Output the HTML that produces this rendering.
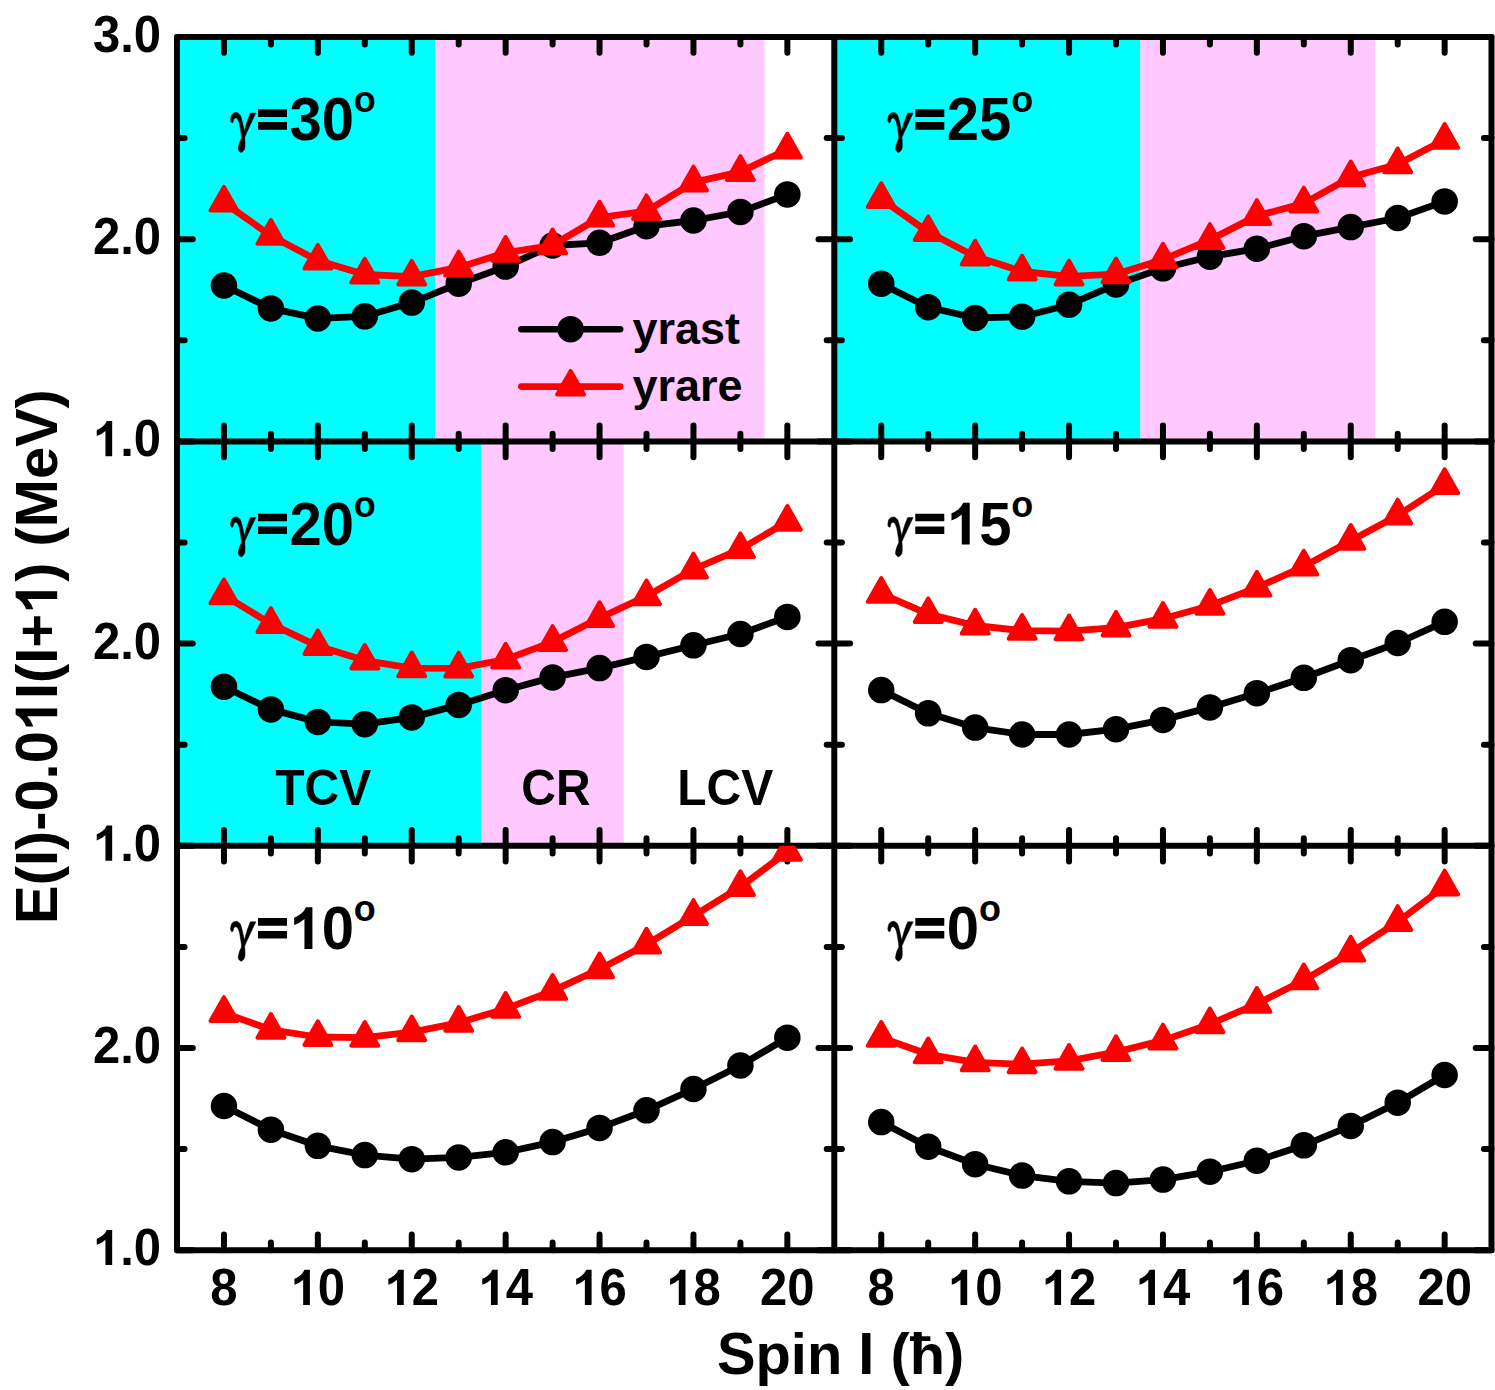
<!DOCTYPE html>
<html><head><meta charset="utf-8"><title>chart</title>
<style>html,body{margin:0;padding:0;background:#fff;}svg{display:block;}text{font-family:"Liberation Sans",sans-serif;font-weight:bold;fill:#000;font-kerning:none;white-space:pre;}</style></head><body>
<svg width="1495" height="1390" viewBox="0 0 1495 1390">
<rect x="0" y="0" width="1495" height="1390" fill="#fff"/>
<defs>
<clipPath id="cp00"><rect x="177.0" y="37.0" width="657.3" height="404.4"/></clipPath>
<clipPath id="cp01"><rect x="834.3" y="37.0" width="657.2" height="404.4"/></clipPath>
<clipPath id="cp10"><rect x="177.0" y="441.4" width="657.3" height="404.4"/></clipPath>
<clipPath id="cp11"><rect x="834.3" y="441.4" width="657.2" height="404.4"/></clipPath>
<clipPath id="cp20"><rect x="177.0" y="845.8" width="657.3" height="404.4"/></clipPath>
<clipPath id="cp21"><rect x="834.3" y="845.8" width="657.2" height="404.4"/></clipPath>
</defs>
<rect x="177.0" y="37.0" width="258.0" height="404.4" fill="#00FFFF"/>
<rect x="435.0" y="37.0" width="329.5" height="404.4" fill="#FFC8FF"/>
<rect x="834.3" y="37.0" width="306.1" height="404.4" fill="#00FFFF"/>
<rect x="1140.4" y="37.0" width="234.7" height="404.4" fill="#FFC8FF"/>
<rect x="177.0" y="441.4" width="304.7" height="404.4" fill="#00FFFF"/>
<rect x="481.7" y="441.4" width="142.0" height="404.4" fill="#FFC8FF"/>
<g fill="none" stroke="#000" stroke-width="6.0" stroke-linecap="round" stroke-linejoin="round">
<rect x="177.0" y="37.0" width="1314.5" height="1213.2"/>
<path d="M834.3 37.0V1250.2M177.0 441.4H1491.5M177.0 845.8H1491.5"/>
<path d="M223.95 37.00V52.80M223.95 425.60V457.20M223.95 830.00V861.60M223.95 1234.40V1250.20M270.90 37.00V44.60M270.90 433.80V449.00M270.90 838.20V853.40M270.90 1242.60V1250.20M317.85 37.00V52.80M317.85 425.60V457.20M317.85 830.00V861.60M317.85 1234.40V1250.20M364.80 37.00V44.60M364.80 433.80V449.00M364.80 838.20V853.40M364.80 1242.60V1250.20M411.75 37.00V52.80M411.75 425.60V457.20M411.75 830.00V861.60M411.75 1234.40V1250.20M458.70 37.00V44.60M458.70 433.80V449.00M458.70 838.20V853.40M458.70 1242.60V1250.20M505.65 37.00V52.80M505.65 425.60V457.20M505.65 830.00V861.60M505.65 1234.40V1250.20M552.60 37.00V44.60M552.60 433.80V449.00M552.60 838.20V853.40M552.60 1242.60V1250.20M599.55 37.00V52.80M599.55 425.60V457.20M599.55 830.00V861.60M599.55 1234.40V1250.20M646.50 37.00V44.60M646.50 433.80V449.00M646.50 838.20V853.40M646.50 1242.60V1250.20M693.45 37.00V52.80M693.45 425.60V457.20M693.45 830.00V861.60M693.45 1234.40V1250.20M740.40 37.00V44.60M740.40 433.80V449.00M740.40 838.20V853.40M740.40 1242.60V1250.20M787.35 37.00V52.80M787.35 425.60V457.20M787.35 830.00V861.60M787.35 1234.40V1250.20M881.25 37.00V52.80M881.25 425.60V457.20M881.25 830.00V861.60M881.25 1234.40V1250.20M928.20 37.00V44.60M928.20 433.80V449.00M928.20 838.20V853.40M928.20 1242.60V1250.20M975.15 37.00V52.80M975.15 425.60V457.20M975.15 830.00V861.60M975.15 1234.40V1250.20M1022.10 37.00V44.60M1022.10 433.80V449.00M1022.10 838.20V853.40M1022.10 1242.60V1250.20M1069.05 37.00V52.80M1069.05 425.60V457.20M1069.05 830.00V861.60M1069.05 1234.40V1250.20M1116.00 37.00V44.60M1116.00 433.80V449.00M1116.00 838.20V853.40M1116.00 1242.60V1250.20M1162.95 37.00V52.80M1162.95 425.60V457.20M1162.95 830.00V861.60M1162.95 1234.40V1250.20M1209.90 37.00V44.60M1209.90 433.80V449.00M1209.90 838.20V853.40M1209.90 1242.60V1250.20M1256.85 37.00V52.80M1256.85 425.60V457.20M1256.85 830.00V861.60M1256.85 1234.40V1250.20M1303.80 37.00V44.60M1303.80 433.80V449.00M1303.80 838.20V853.40M1303.80 1242.60V1250.20M1350.75 37.00V52.80M1350.75 425.60V457.20M1350.75 830.00V861.60M1350.75 1234.40V1250.20M1397.70 37.00V44.60M1397.70 433.80V449.00M1397.70 838.20V853.40M1397.70 1242.60V1250.20M1444.65 37.00V52.80M1444.65 425.60V457.20M1444.65 830.00V861.60M1444.65 1234.40V1250.20M177.00 340.30H184.60M826.70 340.30H841.90M1483.90 340.30H1491.50M177.00 239.20H192.80M818.50 239.20H850.10M1475.70 239.20H1491.50M177.00 138.10H184.60M826.70 138.10H841.90M1483.90 138.10H1491.50M177.00 744.70H184.60M826.70 744.70H841.90M1483.90 744.70H1491.50M177.00 643.60H192.80M818.50 643.60H850.10M1475.70 643.60H1491.50M177.00 542.50H184.60M826.70 542.50H841.90M1483.90 542.50H1491.50M177.00 1149.10H184.60M826.70 1149.10H841.90M1483.90 1149.10H1491.50M177.00 1048.00H192.80M818.50 1048.00H850.10M1475.70 1048.00H1491.50M177.00 946.90H184.60M826.70 946.90H841.90M1483.90 946.90H1491.50M177.00 37.00H192.80M177.00 441.40H192.80M177.00 845.80H192.80M177.00 1250.20H192.80M818.50 37.00H850.10M818.50 441.40H850.10M818.50 845.80H850.10M818.50 1250.20H850.10M1475.70 37.00H1491.50M1475.70 441.40H1491.50M1475.70 845.80H1491.50M1475.70 1250.20H1491.50"/>
</g>
<g clip-path="url(#cp00)">
<polyline points="223.95,285.50 270.90,308.40 317.85,318.40 364.80,316.30 411.75,302.60 458.70,283.70 505.65,266.60 552.60,245.50 599.55,242.80 646.50,226.20 693.45,220.50 740.40,211.90 787.35,194.40" fill="none" stroke="#000" stroke-width="6.8" stroke-linejoin="round" stroke-linecap="round"/>
<g fill="#000"><circle cx="223.95" cy="285.50" r="13.25"/><circle cx="270.90" cy="308.40" r="13.25"/><circle cx="317.85" cy="318.40" r="13.25"/><circle cx="364.80" cy="316.30" r="13.25"/><circle cx="411.75" cy="302.60" r="13.25"/><circle cx="458.70" cy="283.70" r="13.25"/><circle cx="505.65" cy="266.60" r="13.25"/><circle cx="552.60" cy="245.50" r="13.25"/><circle cx="599.55" cy="242.80" r="13.25"/><circle cx="646.50" cy="226.20" r="13.25"/><circle cx="693.45" cy="220.50" r="13.25"/><circle cx="740.40" cy="211.90" r="13.25"/><circle cx="787.35" cy="194.40" r="13.25"/></g>
<polyline points="223.95,202.60 270.90,235.70 317.85,260.60 364.80,274.50 411.75,276.60 458.70,267.40 505.65,252.80 552.60,245.30 599.55,217.50 646.50,211.10 693.45,182.40 740.40,171.90 787.35,149.50" fill="none" stroke="#FF0000" stroke-width="6.8" stroke-linejoin="round" stroke-linecap="round"/>
<path fill="#FF0000" stroke="#FF0000" stroke-width="4.0" stroke-linejoin="round" d="M223.95 186.90L237.40 210.60L210.50 210.60ZM270.90 220.00L284.35 243.70L257.45 243.70ZM317.85 244.90L331.30 268.60L304.40 268.60ZM364.80 258.80L378.25 282.50L351.35 282.50ZM411.75 260.90L425.20 284.60L398.30 284.60ZM458.70 251.70L472.15 275.40L445.25 275.40ZM505.65 237.10L519.10 260.80L492.20 260.80ZM552.60 229.60L566.05 253.30L539.15 253.30ZM599.55 201.80L613.00 225.50L586.10 225.50ZM646.50 195.40L659.95 219.10L633.05 219.10ZM693.45 166.70L706.90 190.40L680.00 190.40ZM740.40 156.20L753.85 179.90L726.95 179.90ZM787.35 133.80L800.80 157.50L773.90 157.50Z"/>
</g>
<g clip-path="url(#cp01)">
<polyline points="881.25,283.70 928.20,307.20 975.15,317.90 1022.10,316.70 1069.05,304.70 1116.00,284.40 1162.95,268.30 1209.90,256.70 1256.85,248.70 1303.80,236.20 1350.75,227.10 1397.70,218.00 1444.65,201.40" fill="none" stroke="#000" stroke-width="6.8" stroke-linejoin="round" stroke-linecap="round"/>
<g fill="#000"><circle cx="881.25" cy="283.70" r="13.25"/><circle cx="928.20" cy="307.20" r="13.25"/><circle cx="975.15" cy="317.90" r="13.25"/><circle cx="1022.10" cy="316.70" r="13.25"/><circle cx="1069.05" cy="304.70" r="13.25"/><circle cx="1116.00" cy="284.40" r="13.25"/><circle cx="1162.95" cy="268.30" r="13.25"/><circle cx="1209.90" cy="256.70" r="13.25"/><circle cx="1256.85" cy="248.70" r="13.25"/><circle cx="1303.80" cy="236.20" r="13.25"/><circle cx="1350.75" cy="227.10" r="13.25"/><circle cx="1397.70" cy="218.00" r="13.25"/><circle cx="1444.65" cy="201.40" r="13.25"/></g>
<polyline points="881.25,199.00 928.20,232.10 975.15,256.40 1022.10,271.50 1069.05,276.40 1116.00,274.20 1162.95,259.50 1209.90,239.90 1256.85,215.90 1303.80,203.40 1350.75,177.30 1397.70,164.30 1444.65,139.70" fill="none" stroke="#FF0000" stroke-width="6.8" stroke-linejoin="round" stroke-linecap="round"/>
<path fill="#FF0000" stroke="#FF0000" stroke-width="4.0" stroke-linejoin="round" d="M881.25 183.30L894.70 207.00L867.80 207.00ZM928.20 216.40L941.65 240.10L914.75 240.10ZM975.15 240.70L988.60 264.40L961.70 264.40ZM1022.10 255.80L1035.55 279.50L1008.65 279.50ZM1069.05 260.70L1082.50 284.40L1055.60 284.40ZM1116.00 258.50L1129.45 282.20L1102.55 282.20ZM1162.95 243.80L1176.40 267.50L1149.50 267.50ZM1209.90 224.20L1223.35 247.90L1196.45 247.90ZM1256.85 200.20L1270.30 223.90L1243.40 223.90ZM1303.80 187.70L1317.25 211.40L1290.35 211.40ZM1350.75 161.60L1364.20 185.30L1337.30 185.30ZM1397.70 148.60L1411.15 172.30L1384.25 172.30ZM1444.65 124.00L1458.10 147.70L1431.20 147.70Z"/>
</g>
<g clip-path="url(#cp10)">
<polyline points="223.95,686.70 270.90,709.40 317.85,721.90 364.80,724.20 411.75,717.40 458.70,704.90 505.65,690.20 552.60,677.40 599.55,668.10 646.50,656.90 693.45,645.30 740.40,634.00 787.35,616.90" fill="none" stroke="#000" stroke-width="6.8" stroke-linejoin="round" stroke-linecap="round"/>
<g fill="#000"><circle cx="223.95" cy="686.70" r="13.25"/><circle cx="270.90" cy="709.40" r="13.25"/><circle cx="317.85" cy="721.90" r="13.25"/><circle cx="364.80" cy="724.20" r="13.25"/><circle cx="411.75" cy="717.40" r="13.25"/><circle cx="458.70" cy="704.90" r="13.25"/><circle cx="505.65" cy="690.20" r="13.25"/><circle cx="552.60" cy="677.40" r="13.25"/><circle cx="599.55" cy="668.10" r="13.25"/><circle cx="646.50" cy="656.90" r="13.25"/><circle cx="693.45" cy="645.30" r="13.25"/><circle cx="740.40" cy="634.00" r="13.25"/><circle cx="787.35" cy="616.90" r="13.25"/></g>
<polyline points="223.95,595.20 270.90,623.90 317.85,646.10 364.80,660.60 411.75,668.20 458.70,668.40 505.65,659.50 552.60,641.90 599.55,618.00 646.50,596.20 693.45,569.40 740.40,549.10 787.35,521.80" fill="none" stroke="#FF0000" stroke-width="6.8" stroke-linejoin="round" stroke-linecap="round"/>
<path fill="#FF0000" stroke="#FF0000" stroke-width="4.0" stroke-linejoin="round" d="M223.95 579.50L237.40 603.20L210.50 603.20ZM270.90 608.20L284.35 631.90L257.45 631.90ZM317.85 630.40L331.30 654.10L304.40 654.10ZM364.80 644.90L378.25 668.60L351.35 668.60ZM411.75 652.50L425.20 676.20L398.30 676.20ZM458.70 652.70L472.15 676.40L445.25 676.40ZM505.65 643.80L519.10 667.50L492.20 667.50ZM552.60 626.20L566.05 649.90L539.15 649.90ZM599.55 602.30L613.00 626.00L586.10 626.00ZM646.50 580.50L659.95 604.20L633.05 604.20ZM693.45 553.70L706.90 577.40L680.00 577.40ZM740.40 533.40L753.85 557.10L726.95 557.10ZM787.35 506.10L800.80 529.80L773.90 529.80Z"/>
</g>
<g clip-path="url(#cp11)">
<polyline points="881.25,690.10 928.20,713.30 975.15,727.60 1022.10,734.50 1069.05,734.50 1116.00,729.20 1162.95,719.90 1209.90,707.40 1256.85,693.20 1303.80,677.80 1350.75,660.20 1397.70,643.00 1444.65,621.80" fill="none" stroke="#000" stroke-width="6.8" stroke-linejoin="round" stroke-linecap="round"/>
<g fill="#000"><circle cx="881.25" cy="690.10" r="13.25"/><circle cx="928.20" cy="713.30" r="13.25"/><circle cx="975.15" cy="727.60" r="13.25"/><circle cx="1022.10" cy="734.50" r="13.25"/><circle cx="1069.05" cy="734.50" r="13.25"/><circle cx="1116.00" cy="729.20" r="13.25"/><circle cx="1162.95" cy="719.90" r="13.25"/><circle cx="1209.90" cy="707.40" r="13.25"/><circle cx="1256.85" cy="693.20" r="13.25"/><circle cx="1303.80" cy="677.80" r="13.25"/><circle cx="1350.75" cy="660.20" r="13.25"/><circle cx="1397.70" cy="643.00" r="13.25"/><circle cx="1444.65" cy="621.80" r="13.25"/></g>
<polyline points="881.25,593.70 928.20,614.10 975.15,625.50 1022.10,630.70 1069.05,631.20 1116.00,627.60 1162.95,618.70 1209.90,605.70 1256.85,587.60 1303.80,566.50 1350.75,540.80 1397.70,515.40 1444.65,485.00" fill="none" stroke="#FF0000" stroke-width="6.8" stroke-linejoin="round" stroke-linecap="round"/>
<path fill="#FF0000" stroke="#FF0000" stroke-width="4.0" stroke-linejoin="round" d="M881.25 578.00L894.70 601.70L867.80 601.70ZM928.20 598.40L941.65 622.10L914.75 622.10ZM975.15 609.80L988.60 633.50L961.70 633.50ZM1022.10 615.00L1035.55 638.70L1008.65 638.70ZM1069.05 615.50L1082.50 639.20L1055.60 639.20ZM1116.00 611.90L1129.45 635.60L1102.55 635.60ZM1162.95 603.00L1176.40 626.70L1149.50 626.70ZM1209.90 590.00L1223.35 613.70L1196.45 613.70ZM1256.85 571.90L1270.30 595.60L1243.40 595.60ZM1303.80 550.80L1317.25 574.50L1290.35 574.50ZM1350.75 525.10L1364.20 548.80L1337.30 548.80ZM1397.70 499.70L1411.15 523.40L1384.25 523.40ZM1444.65 469.30L1458.10 493.00L1431.20 493.00Z"/>
</g>
<g clip-path="url(#cp20)">
<polyline points="223.95,1106.00 270.90,1129.70 317.85,1145.80 364.80,1155.10 411.75,1159.20 458.70,1157.40 505.65,1152.30 552.60,1142.10 599.55,1127.90 646.50,1110.30 693.45,1089.00 740.40,1065.50 787.35,1037.70" fill="none" stroke="#000" stroke-width="6.8" stroke-linejoin="round" stroke-linecap="round"/>
<g fill="#000"><circle cx="223.95" cy="1106.00" r="13.25"/><circle cx="270.90" cy="1129.70" r="13.25"/><circle cx="317.85" cy="1145.80" r="13.25"/><circle cx="364.80" cy="1155.10" r="13.25"/><circle cx="411.75" cy="1159.20" r="13.25"/><circle cx="458.70" cy="1157.40" r="13.25"/><circle cx="505.65" cy="1152.30" r="13.25"/><circle cx="552.60" cy="1142.10" r="13.25"/><circle cx="599.55" cy="1127.90" r="13.25"/><circle cx="646.50" cy="1110.30" r="13.25"/><circle cx="693.45" cy="1089.00" r="13.25"/><circle cx="740.40" cy="1065.50" r="13.25"/><circle cx="787.35" cy="1037.70" r="13.25"/></g>
<polyline points="223.95,1012.90 270.90,1029.80 317.85,1037.00 364.80,1037.70 411.75,1032.20 458.70,1022.80 505.65,1008.80 552.60,990.80 599.55,969.20 646.50,944.50 693.45,915.90 740.40,887.00 787.35,851.80" fill="none" stroke="#FF0000" stroke-width="6.8" stroke-linejoin="round" stroke-linecap="round"/>
<path fill="#FF0000" stroke="#FF0000" stroke-width="4.0" stroke-linejoin="round" d="M223.95 997.20L237.40 1020.90L210.50 1020.90ZM270.90 1014.10L284.35 1037.80L257.45 1037.80ZM317.85 1021.30L331.30 1045.00L304.40 1045.00ZM364.80 1022.00L378.25 1045.70L351.35 1045.70ZM411.75 1016.50L425.20 1040.20L398.30 1040.20ZM458.70 1007.10L472.15 1030.80L445.25 1030.80ZM505.65 993.10L519.10 1016.80L492.20 1016.80ZM552.60 975.10L566.05 998.80L539.15 998.80ZM599.55 953.50L613.00 977.20L586.10 977.20ZM646.50 928.80L659.95 952.50L633.05 952.50ZM693.45 900.20L706.90 923.90L680.00 923.90ZM740.40 871.30L753.85 895.00L726.95 895.00ZM787.35 836.10L800.80 859.80L773.90 859.80Z"/>
</g>
<g clip-path="url(#cp21)">
<polyline points="881.25,1122.10 928.20,1146.70 975.15,1164.20 1022.10,1175.60 1069.05,1181.30 1116.00,1183.10 1162.95,1179.60 1209.90,1171.70 1256.85,1160.70 1303.80,1145.30 1350.75,1125.90 1397.70,1102.70 1444.65,1075.00" fill="none" stroke="#000" stroke-width="6.8" stroke-linejoin="round" stroke-linecap="round"/>
<g fill="#000"><circle cx="881.25" cy="1122.10" r="13.25"/><circle cx="928.20" cy="1146.70" r="13.25"/><circle cx="975.15" cy="1164.20" r="13.25"/><circle cx="1022.10" cy="1175.60" r="13.25"/><circle cx="1069.05" cy="1181.30" r="13.25"/><circle cx="1116.00" cy="1183.10" r="13.25"/><circle cx="1162.95" cy="1179.60" r="13.25"/><circle cx="1209.90" cy="1171.70" r="13.25"/><circle cx="1256.85" cy="1160.70" r="13.25"/><circle cx="1303.80" cy="1145.30" r="13.25"/><circle cx="1350.75" cy="1125.90" r="13.25"/><circle cx="1397.70" cy="1102.70" r="13.25"/><circle cx="1444.65" cy="1075.00" r="13.25"/></g>
<polyline points="881.25,1037.70 928.20,1054.30 975.15,1062.30 1022.10,1064.20 1069.05,1060.80 1116.00,1052.00 1162.95,1040.40 1209.90,1024.20 1256.85,1003.80 1303.80,980.20 1350.75,952.50 1397.70,921.90 1444.65,886.40" fill="none" stroke="#FF0000" stroke-width="6.8" stroke-linejoin="round" stroke-linecap="round"/>
<path fill="#FF0000" stroke="#FF0000" stroke-width="4.0" stroke-linejoin="round" d="M881.25 1022.00L894.70 1045.70L867.80 1045.70ZM928.20 1038.60L941.65 1062.30L914.75 1062.30ZM975.15 1046.60L988.60 1070.30L961.70 1070.30ZM1022.10 1048.50L1035.55 1072.20L1008.65 1072.20ZM1069.05 1045.10L1082.50 1068.80L1055.60 1068.80ZM1116.00 1036.30L1129.45 1060.00L1102.55 1060.00ZM1162.95 1024.70L1176.40 1048.40L1149.50 1048.40ZM1209.90 1008.50L1223.35 1032.20L1196.45 1032.20ZM1256.85 988.10L1270.30 1011.80L1243.40 1011.80ZM1303.80 964.50L1317.25 988.20L1290.35 988.20ZM1350.75 936.80L1364.20 960.50L1337.30 960.50ZM1397.70 906.20L1411.15 929.90L1384.25 929.90ZM1444.65 870.70L1458.10 894.40L1431.20 894.40Z"/>
</g>
<path transform="translate(0.0 0.0)" d="M231.92 122.88C231.51 122.69 230.80 121.89 230.61 121.09C230.42 120.29 230.55 119.21 230.80 118.09C231.05 116.97 231.21 115.28 232.11 114.35C233.01 113.41 234.91 112.42 236.22 112.48C237.53 112.54 239.03 113.48 239.96 114.73C240.90 115.98 241.21 117.72 241.83 119.96C242.46 122.20 243.27 126.29 243.71 128.19C244.15 130.09 244.45 131.37 244.45 131.37C244.45 131.37 246.07 124.88 247.07 121.83C248.07 118.78 250.44 113.04 250.44 113.04C250.44 113.04 255.86 113.04 255.86 113.04C255.86 113.04 252.97 119.12 251.19 122.96C249.41 126.79 246.26 133.43 245.20 136.05C244.14 138.67 244.86 137.30 244.83 138.67C244.80 140.04 245.07 142.53 245.01 144.28C244.95 146.03 245.04 147.81 244.45 149.15C243.86 150.49 242.40 152.08 241.46 152.33C240.53 152.58 239.37 151.36 238.84 150.64C238.31 149.92 238.16 149.39 238.28 148.02C238.41 146.65 239.06 144.09 239.59 142.41C240.12 140.73 241.27 139.79 241.46 137.92C241.65 136.05 241.08 133.68 240.71 131.19C240.34 128.70 239.78 125.02 239.22 122.96C238.66 120.90 237.97 119.68 237.35 118.84C236.73 118.00 236.07 117.85 235.48 117.91C234.89 117.97 234.20 118.50 233.79 119.22C233.38 119.94 233.35 121.60 233.04 122.21C232.73 122.82 232.32 123.07 231.92 122.88Z" fill="#000" stroke="#000" stroke-width="0.5" stroke-linejoin="round"/>
<g transform="translate(255.70 140.10)" font-size="58.0"><path d="M2.30 -30.80H31.30V-23.20H2.30ZM2.30 -17.98H31.30V-10.38H2.30Z"/><text transform="translate(33.87 0) scale(1 1.04)">30</text><text x="98.18" y="-27.7" font-size="36">o</text></g>
<path transform="translate(657.3 0.0)" d="M231.92 122.88C231.51 122.69 230.80 121.89 230.61 121.09C230.42 120.29 230.55 119.21 230.80 118.09C231.05 116.97 231.21 115.28 232.11 114.35C233.01 113.41 234.91 112.42 236.22 112.48C237.53 112.54 239.03 113.48 239.96 114.73C240.90 115.98 241.21 117.72 241.83 119.96C242.46 122.20 243.27 126.29 243.71 128.19C244.15 130.09 244.45 131.37 244.45 131.37C244.45 131.37 246.07 124.88 247.07 121.83C248.07 118.78 250.44 113.04 250.44 113.04C250.44 113.04 255.86 113.04 255.86 113.04C255.86 113.04 252.97 119.12 251.19 122.96C249.41 126.79 246.26 133.43 245.20 136.05C244.14 138.67 244.86 137.30 244.83 138.67C244.80 140.04 245.07 142.53 245.01 144.28C244.95 146.03 245.04 147.81 244.45 149.15C243.86 150.49 242.40 152.08 241.46 152.33C240.53 152.58 239.37 151.36 238.84 150.64C238.31 149.92 238.16 149.39 238.28 148.02C238.41 146.65 239.06 144.09 239.59 142.41C240.12 140.73 241.27 139.79 241.46 137.92C241.65 136.05 241.08 133.68 240.71 131.19C240.34 128.70 239.78 125.02 239.22 122.96C238.66 120.90 237.97 119.68 237.35 118.84C236.73 118.00 236.07 117.85 235.48 117.91C234.89 117.97 234.20 118.50 233.79 119.22C233.38 119.94 233.35 121.60 233.04 122.21C232.73 122.82 232.32 123.07 231.92 122.88Z" fill="#000" stroke="#000" stroke-width="0.5" stroke-linejoin="round"/>
<g transform="translate(913.00 140.10)" font-size="58.0"><path d="M2.30 -30.80H31.30V-23.20H2.30ZM2.30 -17.98H31.30V-10.38H2.30Z"/><text transform="translate(33.87 0) scale(1 1.04)">25</text><text x="98.18" y="-27.7" font-size="36">o</text></g>
<path transform="translate(0.0 404.4)" d="M231.92 122.88C231.51 122.69 230.80 121.89 230.61 121.09C230.42 120.29 230.55 119.21 230.80 118.09C231.05 116.97 231.21 115.28 232.11 114.35C233.01 113.41 234.91 112.42 236.22 112.48C237.53 112.54 239.03 113.48 239.96 114.73C240.90 115.98 241.21 117.72 241.83 119.96C242.46 122.20 243.27 126.29 243.71 128.19C244.15 130.09 244.45 131.37 244.45 131.37C244.45 131.37 246.07 124.88 247.07 121.83C248.07 118.78 250.44 113.04 250.44 113.04C250.44 113.04 255.86 113.04 255.86 113.04C255.86 113.04 252.97 119.12 251.19 122.96C249.41 126.79 246.26 133.43 245.20 136.05C244.14 138.67 244.86 137.30 244.83 138.67C244.80 140.04 245.07 142.53 245.01 144.28C244.95 146.03 245.04 147.81 244.45 149.15C243.86 150.49 242.40 152.08 241.46 152.33C240.53 152.58 239.37 151.36 238.84 150.64C238.31 149.92 238.16 149.39 238.28 148.02C238.41 146.65 239.06 144.09 239.59 142.41C240.12 140.73 241.27 139.79 241.46 137.92C241.65 136.05 241.08 133.68 240.71 131.19C240.34 128.70 239.78 125.02 239.22 122.96C238.66 120.90 237.97 119.68 237.35 118.84C236.73 118.00 236.07 117.85 235.48 117.91C234.89 117.97 234.20 118.50 233.79 119.22C233.38 119.94 233.35 121.60 233.04 122.21C232.73 122.82 232.32 123.07 231.92 122.88Z" fill="#000" stroke="#000" stroke-width="0.5" stroke-linejoin="round"/>
<g transform="translate(255.70 544.50)" font-size="58.0"><path d="M2.30 -30.80H31.30V-23.20H2.30ZM2.30 -17.98H31.30V-10.38H2.30Z"/><text transform="translate(33.87 0) scale(1 1.04)">20</text><text x="98.18" y="-27.7" font-size="36">o</text></g>
<path transform="translate(657.3 404.4)" d="M231.92 122.88C231.51 122.69 230.80 121.89 230.61 121.09C230.42 120.29 230.55 119.21 230.80 118.09C231.05 116.97 231.21 115.28 232.11 114.35C233.01 113.41 234.91 112.42 236.22 112.48C237.53 112.54 239.03 113.48 239.96 114.73C240.90 115.98 241.21 117.72 241.83 119.96C242.46 122.20 243.27 126.29 243.71 128.19C244.15 130.09 244.45 131.37 244.45 131.37C244.45 131.37 246.07 124.88 247.07 121.83C248.07 118.78 250.44 113.04 250.44 113.04C250.44 113.04 255.86 113.04 255.86 113.04C255.86 113.04 252.97 119.12 251.19 122.96C249.41 126.79 246.26 133.43 245.20 136.05C244.14 138.67 244.86 137.30 244.83 138.67C244.80 140.04 245.07 142.53 245.01 144.28C244.95 146.03 245.04 147.81 244.45 149.15C243.86 150.49 242.40 152.08 241.46 152.33C240.53 152.58 239.37 151.36 238.84 150.64C238.31 149.92 238.16 149.39 238.28 148.02C238.41 146.65 239.06 144.09 239.59 142.41C240.12 140.73 241.27 139.79 241.46 137.92C241.65 136.05 241.08 133.68 240.71 131.19C240.34 128.70 239.78 125.02 239.22 122.96C238.66 120.90 237.97 119.68 237.35 118.84C236.73 118.00 236.07 117.85 235.48 117.91C234.89 117.97 234.20 118.50 233.79 119.22C233.38 119.94 233.35 121.60 233.04 122.21C232.73 122.82 232.32 123.07 231.92 122.88Z" fill="#000" stroke="#000" stroke-width="0.5" stroke-linejoin="round"/>
<g transform="translate(913.00 544.50)" font-size="58.0"><path d="M2.30 -30.80H31.30V-23.20H2.30ZM2.30 -17.98H31.30V-10.38H2.30Z"/><path transform="translate(33.87 0) scale(0.02832 -0.02832)" d="M806 0H525V1059Q371 915 162 846V1101Q272 1137 401 1237.5Q530 1338 578 1472H806Z"/><text transform="translate(66.13 0) scale(1 1.04)">5</text><text x="98.18" y="-27.7" font-size="36">o</text></g>
<path transform="translate(0.0 808.8)" d="M231.92 122.88C231.51 122.69 230.80 121.89 230.61 121.09C230.42 120.29 230.55 119.21 230.80 118.09C231.05 116.97 231.21 115.28 232.11 114.35C233.01 113.41 234.91 112.42 236.22 112.48C237.53 112.54 239.03 113.48 239.96 114.73C240.90 115.98 241.21 117.72 241.83 119.96C242.46 122.20 243.27 126.29 243.71 128.19C244.15 130.09 244.45 131.37 244.45 131.37C244.45 131.37 246.07 124.88 247.07 121.83C248.07 118.78 250.44 113.04 250.44 113.04C250.44 113.04 255.86 113.04 255.86 113.04C255.86 113.04 252.97 119.12 251.19 122.96C249.41 126.79 246.26 133.43 245.20 136.05C244.14 138.67 244.86 137.30 244.83 138.67C244.80 140.04 245.07 142.53 245.01 144.28C244.95 146.03 245.04 147.81 244.45 149.15C243.86 150.49 242.40 152.08 241.46 152.33C240.53 152.58 239.37 151.36 238.84 150.64C238.31 149.92 238.16 149.39 238.28 148.02C238.41 146.65 239.06 144.09 239.59 142.41C240.12 140.73 241.27 139.79 241.46 137.92C241.65 136.05 241.08 133.68 240.71 131.19C240.34 128.70 239.78 125.02 239.22 122.96C238.66 120.90 237.97 119.68 237.35 118.84C236.73 118.00 236.07 117.85 235.48 117.91C234.89 117.97 234.20 118.50 233.79 119.22C233.38 119.94 233.35 121.60 233.04 122.21C232.73 122.82 232.32 123.07 231.92 122.88Z" fill="#000" stroke="#000" stroke-width="0.5" stroke-linejoin="round"/>
<g transform="translate(255.70 948.90)" font-size="58.0"><path d="M2.30 -30.80H31.30V-23.20H2.30ZM2.30 -17.98H31.30V-10.38H2.30Z"/><path transform="translate(33.87 0) scale(0.02832 -0.02832)" d="M806 0H525V1059Q371 915 162 846V1101Q272 1137 401 1237.5Q530 1338 578 1472H806Z"/><text transform="translate(66.13 0) scale(1 1.04)">0</text><text x="98.18" y="-27.7" font-size="36">o</text></g>
<path transform="translate(657.3 808.8)" d="M231.92 122.88C231.51 122.69 230.80 121.89 230.61 121.09C230.42 120.29 230.55 119.21 230.80 118.09C231.05 116.97 231.21 115.28 232.11 114.35C233.01 113.41 234.91 112.42 236.22 112.48C237.53 112.54 239.03 113.48 239.96 114.73C240.90 115.98 241.21 117.72 241.83 119.96C242.46 122.20 243.27 126.29 243.71 128.19C244.15 130.09 244.45 131.37 244.45 131.37C244.45 131.37 246.07 124.88 247.07 121.83C248.07 118.78 250.44 113.04 250.44 113.04C250.44 113.04 255.86 113.04 255.86 113.04C255.86 113.04 252.97 119.12 251.19 122.96C249.41 126.79 246.26 133.43 245.20 136.05C244.14 138.67 244.86 137.30 244.83 138.67C244.80 140.04 245.07 142.53 245.01 144.28C244.95 146.03 245.04 147.81 244.45 149.15C243.86 150.49 242.40 152.08 241.46 152.33C240.53 152.58 239.37 151.36 238.84 150.64C238.31 149.92 238.16 149.39 238.28 148.02C238.41 146.65 239.06 144.09 239.59 142.41C240.12 140.73 241.27 139.79 241.46 137.92C241.65 136.05 241.08 133.68 240.71 131.19C240.34 128.70 239.78 125.02 239.22 122.96C238.66 120.90 237.97 119.68 237.35 118.84C236.73 118.00 236.07 117.85 235.48 117.91C234.89 117.97 234.20 118.50 233.79 119.22C233.38 119.94 233.35 121.60 233.04 122.21C232.73 122.82 232.32 123.07 231.92 122.88Z" fill="#000" stroke="#000" stroke-width="0.5" stroke-linejoin="round"/>
<g transform="translate(913.00 948.90)" font-size="58.0"><path d="M2.30 -30.80H31.30V-23.20H2.30ZM2.30 -17.98H31.30V-10.38H2.30Z"/><text transform="translate(33.87 0) scale(1 1.04)">0</text><text x="65.93" y="-27.7" font-size="36">o</text></g>
<path d="M521.4 329.2H620.1" stroke="#000" stroke-width="6.65" stroke-linecap="round"/>
<circle cx="570.6" cy="329.2" r="13.25" fill="#000"/>
<path d="M521.4 386.6H620.1" stroke="#FF0000" stroke-width="6.65" stroke-linecap="round"/>
<path fill="#FF0000" stroke="#FF0000" stroke-width="4.0" stroke-linejoin="round" d="M570.60 370.90L584.05 394.60L557.15 394.60Z"/>
<g transform="translate(632.50 344.20)" font-size="45"><text x="0.00">yrast</text></g>
<g transform="translate(632.50 401.40)" font-size="45"><text x="0.00">yrare</text></g>
<g transform="translate(323.20 805.10)" font-size="48"><text transform="translate(-48.00 0) scale(1 1.04)">TCV</text></g>
<g transform="translate(556.00 805.10)" font-size="48"><text transform="translate(-34.66 0) scale(1 1.04)">CR</text></g>
<g transform="translate(725.20 805.10)" font-size="48"><text transform="translate(-48.00 0) scale(1 1.04)">LCV</text></g>
<g transform="translate(223.95 1305.00)" font-size="49.0"><text transform="translate(-13.63 0) scale(1 1.04)">8</text></g>
<g transform="translate(317.85 1305.00)" font-size="49.0"><path transform="translate(-27.25 0) scale(0.02393 -0.02393)" d="M806 0H525V1059Q371 915 162 846V1101Q272 1137 401 1237.5Q530 1338 578 1472H806Z"/><text transform="translate(0.00 0) scale(1 1.04)">0</text></g>
<g transform="translate(411.75 1305.00)" font-size="49.0"><path transform="translate(-27.25 0) scale(0.02393 -0.02393)" d="M806 0H525V1059Q371 915 162 846V1101Q272 1137 401 1237.5Q530 1338 578 1472H806Z"/><text transform="translate(0.00 0) scale(1 1.04)">2</text></g>
<g transform="translate(505.65 1305.00)" font-size="49.0"><path transform="translate(-27.25 0) scale(0.02393 -0.02393)" d="M806 0H525V1059Q371 915 162 846V1101Q272 1137 401 1237.5Q530 1338 578 1472H806Z"/><text transform="translate(0.00 0) scale(1 1.04)">4</text></g>
<g transform="translate(599.55 1305.00)" font-size="49.0"><path transform="translate(-27.25 0) scale(0.02393 -0.02393)" d="M806 0H525V1059Q371 915 162 846V1101Q272 1137 401 1237.5Q530 1338 578 1472H806Z"/><text transform="translate(0.00 0) scale(1 1.04)">6</text></g>
<g transform="translate(693.45 1305.00)" font-size="49.0"><path transform="translate(-27.25 0) scale(0.02393 -0.02393)" d="M806 0H525V1059Q371 915 162 846V1101Q272 1137 401 1237.5Q530 1338 578 1472H806Z"/><text transform="translate(0.00 0) scale(1 1.04)">8</text></g>
<g transform="translate(787.35 1305.00)" font-size="49.0"><text transform="translate(-27.25 0) scale(1 1.04)">20</text></g>
<g transform="translate(881.25 1305.00)" font-size="49.0"><text transform="translate(-13.63 0) scale(1 1.04)">8</text></g>
<g transform="translate(975.15 1305.00)" font-size="49.0"><path transform="translate(-27.25 0) scale(0.02393 -0.02393)" d="M806 0H525V1059Q371 915 162 846V1101Q272 1137 401 1237.5Q530 1338 578 1472H806Z"/><text transform="translate(0.00 0) scale(1 1.04)">0</text></g>
<g transform="translate(1069.05 1305.00)" font-size="49.0"><path transform="translate(-27.25 0) scale(0.02393 -0.02393)" d="M806 0H525V1059Q371 915 162 846V1101Q272 1137 401 1237.5Q530 1338 578 1472H806Z"/><text transform="translate(0.00 0) scale(1 1.04)">2</text></g>
<g transform="translate(1162.95 1305.00)" font-size="49.0"><path transform="translate(-27.25 0) scale(0.02393 -0.02393)" d="M806 0H525V1059Q371 915 162 846V1101Q272 1137 401 1237.5Q530 1338 578 1472H806Z"/><text transform="translate(0.00 0) scale(1 1.04)">4</text></g>
<g transform="translate(1256.85 1305.00)" font-size="49.0"><path transform="translate(-27.25 0) scale(0.02393 -0.02393)" d="M806 0H525V1059Q371 915 162 846V1101Q272 1137 401 1237.5Q530 1338 578 1472H806Z"/><text transform="translate(0.00 0) scale(1 1.04)">6</text></g>
<g transform="translate(1350.75 1305.00)" font-size="49.0"><path transform="translate(-27.25 0) scale(0.02393 -0.02393)" d="M806 0H525V1059Q371 915 162 846V1101Q272 1137 401 1237.5Q530 1338 578 1472H806Z"/><text transform="translate(0.00 0) scale(1 1.04)">8</text></g>
<g transform="translate(1444.65 1305.00)" font-size="49.0"><text transform="translate(-27.25 0) scale(1 1.04)">20</text></g>
<g transform="translate(161.00 51.90)" font-size="49.0"><text transform="translate(-68.12 0) scale(1 1.04)">3</text><text x="-40.87">.</text><text transform="translate(-27.25 0) scale(1 1.04)">0</text></g>
<g transform="translate(161.00 254.10)" font-size="49.0"><text transform="translate(-68.12 0) scale(1 1.04)">2</text><text x="-40.87">.</text><text transform="translate(-27.25 0) scale(1 1.04)">0</text></g>
<g transform="translate(161.00 456.30)" font-size="49.0"><path transform="translate(-68.12 0) scale(0.02393 -0.02393)" d="M806 0H525V1059Q371 915 162 846V1101Q272 1137 401 1237.5Q530 1338 578 1472H806Z"/><text x="-40.87">.</text><text transform="translate(-27.25 0) scale(1 1.04)">0</text></g>
<g transform="translate(161.00 658.50)" font-size="49.0"><text transform="translate(-68.12 0) scale(1 1.04)">2</text><text x="-40.87">.</text><text transform="translate(-27.25 0) scale(1 1.04)">0</text></g>
<g transform="translate(161.00 860.70)" font-size="49.0"><path transform="translate(-68.12 0) scale(0.02393 -0.02393)" d="M806 0H525V1059Q371 915 162 846V1101Q272 1137 401 1237.5Q530 1338 578 1472H806Z"/><text x="-40.87">.</text><text transform="translate(-27.25 0) scale(1 1.04)">0</text></g>
<g transform="translate(161.00 1062.90)" font-size="49.0"><text transform="translate(-68.12 0) scale(1 1.04)">2</text><text x="-40.87">.</text><text transform="translate(-27.25 0) scale(1 1.04)">0</text></g>
<g transform="translate(161.00 1265.10)" font-size="49.0"><path transform="translate(-68.12 0) scale(0.02393 -0.02393)" d="M806 0H525V1059Q371 915 162 846V1101Q272 1137 401 1237.5Q530 1338 578 1472H806Z"/><text x="-40.87">.</text><text transform="translate(-27.25 0) scale(1 1.04)">0</text></g>
<g transform="translate(840.60 1374.10)" font-size="57.8"><text transform="translate(-123.60 0) scale(1 1.04)">S</text><text x="-85.05">pin </text><text transform="translate(17.68 0) scale(1 1.04)">I </text><text x="49.80">(ħ)</text></g>
<g transform="translate(57.20 656.50) rotate(-90)" font-size="57.8"><text transform="translate(-267.38 0) scale(1 1.04)">E</text><text x="-228.83">(</text><text transform="translate(-209.58 0) scale(1 1.04)">I</text><text x="-193.52">)-</text><text transform="translate(-155.03 0) scale(1 1.04)">0</text><text x="-122.88">.</text><text transform="translate(-106.82 0) scale(1 1.04)">0</text><path transform="translate(-74.68 0) scale(0.02822 -0.02822)" d="M806 0H525V1059Q371 915 162 846V1101Q272 1137 401 1237.5Q530 1338 578 1472H806Z"/><text transform="translate(-42.53 0) scale(1 1.04)">I</text><text x="-26.47">(</text><text transform="translate(-7.22 0) scale(1 1.04)">I</text><text x="8.83">+</text><path transform="translate(42.59 0) scale(0.02822 -0.02822)" d="M806 0H525V1059Q371 915 162 846V1101Q272 1137 401 1237.5Q530 1338 578 1472H806Z"/><text x="74.73">) (</text><text transform="translate(129.29 0) scale(1 1.04)">M</text><text x="177.44">e</text><text transform="translate(209.58 0) scale(1 1.04)">V</text><text x="248.13">)</text></g>
</svg></body></html>
